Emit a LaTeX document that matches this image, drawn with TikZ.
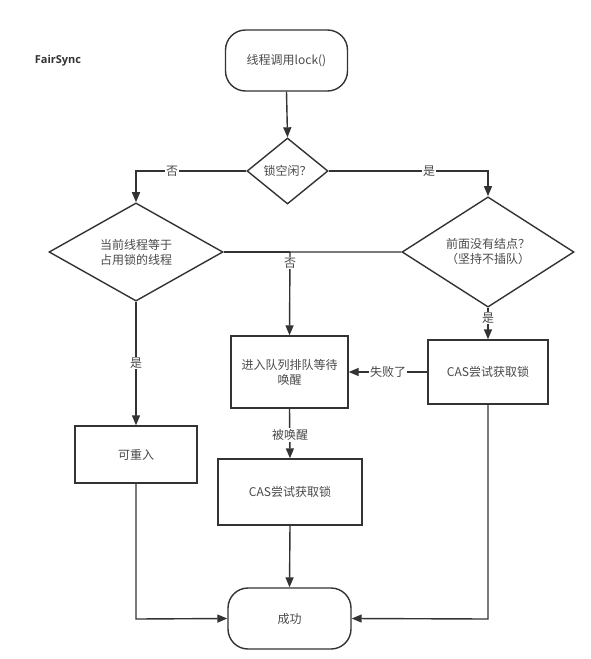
\documentclass[tikz,border=0pt]{standalone}
\usepackage{fontspec}
\setmainfont{Noto Sans CJK SC}
\newfontfamily\latinbold{Open Sans}[BoldFont={* Bold}]
\usetikzlibrary{shapes.geometric,arrows.meta}
\definecolor{linec}{HTML}{333333}
\definecolor{textc}{HTML}{4A4A4A}
\begin{document}
\begin{tikzpicture}[x=1pt,y=-1pt,
  every node/.style={font=\fontsize{12}{15}\selectfont, text=textc},
  line/.style={draw=linec, line width=1.4pt},
  arr/.style={line, -{Triangle[width=8pt,length=10pt]}},
  terminal/.style={draw=linec, line width=1.4pt, rounded corners=20pt,
    minimum width=122pt, minimum height=61pt, inner sep=0pt},
  decision/.style={draw=linec, line width=1.4pt, diamond, inner sep=0pt, align=center},
  process/.style={draw=linec, line width=1.4pt, rectangle, inner sep=0pt, align=center},
  lbl/.style={fill=white, inner sep=1pt}]
\useasboundingbox[fill=white] (0,0) rectangle (590,659);

\node[font=\latinbold\bfseries\fontsize{11}{13}\selectfont, text=linec] (title) at (58,61) {FairSync};

\node[terminal] (start) at (286.5,60.5) {线程调用lock()};
\node[decision, minimum width=81pt, minimum height=66pt] (free) at (287.5,171) {锁空闲？};
\node[decision, minimum width=174pt, minimum height=90pt] (owner) at (136,252) {当前线程等于\\占用锁的线程};
\node[decision, minimum width=172pt, minimum height=82pt] (prev) at (488,252) {前面没有结点？\\（坚持不插队）};
\node[process, minimum width=120pt, minimum height=64pt] (cas1) at (488,372) {CAS尝试获取锁};
\node[process, minimum width=117pt, minimum height=72pt] (queue) at (289.5,372) {进入队列排队等待\\唤醒};
\node[process, minimum width=122pt, minimum height=57pt] (reent) at (136,454.5) {可重入};
\node[process, minimum width=144pt, minimum height=66pt] (cas2) at (290,492) {CAS尝试获取锁};
\node[terminal, minimum width=123pt] (succ) at (289.5,618.5) {成功};

\coordinate (j1) at (136,171);
\coordinate (j2) at (488,171);
\coordinate (j3) at (290,252);
\coordinate (j4) at (136,619);
\coordinate (j5) at (488,619);

\draw[arr] (start.south) -- (free.north);
\draw[arr] (free.west) -- (j1) -- (owner.north);
\node[lbl] (nolbl1) at (172,171) {否};
\draw[arr] (free.east) -- (j2) -- (prev.north);
\node[lbl] (yeslbl1) at (429,171) {是};
\draw[line] (owner.east) -- (j3);
\draw[arr] (prev.west) -- (j3) -- (queue.north);
\node[lbl] (nolbl2) at (290,263) {否};
\draw[arr] (owner.south) -- (reent.north);
\node[lbl] (yeslbl2) at (136,363) {是};
\draw[arr] (prev.south) -- (cas1.north);
\node[lbl] (yeslbl3) at (488,318) {是};
\draw[arr] (cas1.west) -- (queue.east);
\node[lbl] (faillbl) at (388,372) {失败了};
\draw[arr] (queue.south) -- (cas2.north);
\node[lbl] (wakelbl) at (290,435) {被唤醒};
\draw[arr] (cas2.south) -- (succ.north);
\draw[arr] (reent.south) -- (j4) -- (succ.west);
\draw[arr] (cas1.south) -- (j5) -- (succ.east);
\end{tikzpicture}
\end{document}
